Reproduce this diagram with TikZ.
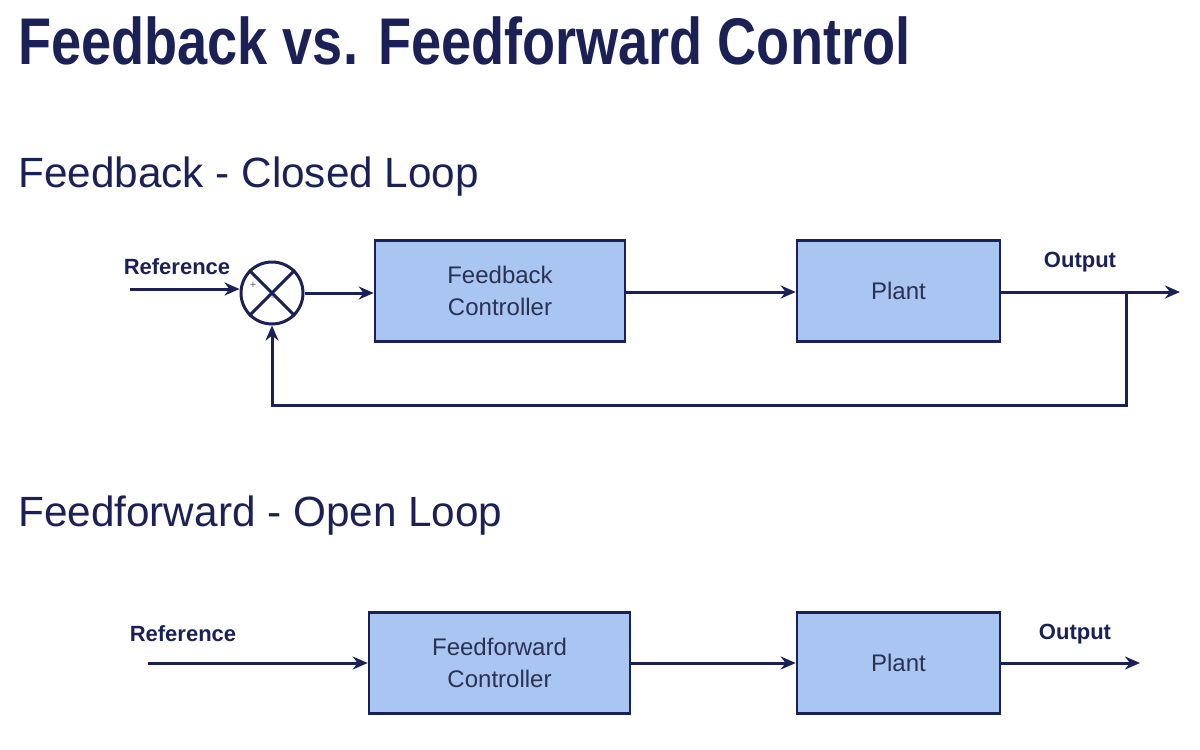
\documentclass[tikz,border=0pt]{standalone}
\usepackage{fontspec}
\setmainfont{Liberation Sans}
\newfontfamily\titlefont[FakeStretch=0.82]{Liberation Sans}
\usetikzlibrary{arrows.meta}
\definecolor{navy}{HTML}{1B2157}
\definecolor{boxblue}{HTML}{A9C5F2}
\definecolor{boxtext}{HTML}{2B3152}
\begin{document}
\begin{tikzpicture}[
  x=1pt, y=-1pt,
  block/.style={draw=navy, line width=2.6pt, fill=boxblue, text=boxtext,
    minimum width=#1, minimum height=101pt, inner sep=0pt, align=center,
    font=\fontsize{24}{32}\selectfont},
  block/.default=250pt,
  sumnode/.style={circle, draw=navy, line width=3pt, minimum size=62pt, inner sep=0pt},
  lbl/.style={text=navy, font=\fontsize{22}{24}\selectfont\bfseries},
  heading/.style={text=navy, anchor=base west, font=\fontsize{42.3}{48}\selectfont},
  sig/.style={draw=navy, line width=3pt, -{Stealth[length=15pt,width=13pt]}},
  line/.style={draw=navy, line width=3pt}
]
  \useasboundingbox (0,0) rectangle (1200,750);

  % title
  \node[anchor=base west, inner sep=0pt, text=navy,
    font=\titlefont\fontsize{66}{70}\selectfont\bfseries] (title) at (18,64)
    {Feedback vs. Feedforward Control};

  % Feedback (closed loop)
  \node[heading, inner sep=0pt] (fbhead) at (18,187) {Feedback - Closed Loop};
  \node[sumnode] (sum) at (272,293) {};
  \draw[line] (sum.45) -- (sum.225);
  \draw[line] (sum.135) -- (sum.315);
  \node[font=\fontsize{11}{11}\selectfont, text=navy!70] (plus) at (253,285) {+};
  \node[font=\fontsize{11}{11}\selectfont, text=navy!70] (minus) at (273,299) {-};
  \coordinate (fbin) at (130,289);
  \node[lbl] (fbref) at (177,267) {Reference};
  \node[block] (fbctrl) at (500,291) {Feedback\\Controller};
  \node[block=203pt] (fbplant) at (898.5,291) {Plant};
  \coordinate (fbout) at (1180,292);
  \coordinate (tap) at (1126,292);
  \node[lbl] (fboutlbl) at (1080,262) {Output};
  \draw[sig] (fbin) -- (sum.west |- fbin);
  \draw[sig] (sum.east) -- (fbctrl.west |- sum.east);
  \draw[sig] (fbctrl.east |- 0,292) -- (fbplant.west |- 0,292);
  \draw[sig] (fbplant.east |- fbout) -- (fbout);
  \draw[sig] (tap) -- (1126,405) -- (272,405) -- (sum.south);

  % Feedforward (open loop)
  \node[heading, inner sep=0pt] (ffhead) at (18,526) {Feedforward - Open Loop};
  \coordinate (ffin) at (148,663);
  \node[lbl] (ffref) at (183,634) {Reference};
  \node[block=261pt] (ffctrl) at (499.5,663) {Feedforward\\Controller};
  \node[block=203pt] (ffplant) at (898.5,663) {Plant};
  \coordinate (ffout) at (1140,663);
  \node[lbl] (ffoutlbl) at (1075,634) {Output};
  \draw[sig] (ffin) -- (ffctrl.west);
  \draw[sig] (ffctrl.east) -- (ffplant.west);
  \draw[sig] (ffplant.east) -- (ffout);
\end{tikzpicture}
\end{document}
